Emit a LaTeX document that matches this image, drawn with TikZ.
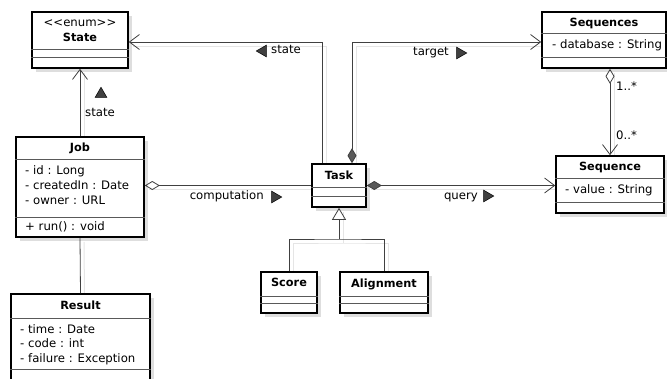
\documentclass[tikz,border=0pt]{standalone}
\usepackage{fontspec}
\setmainfont{DejaVu Sans}
\usetikzlibrary{arrows.meta,shapes.geometric,shadows,backgrounds}

\begin{document}
\begin{tikzpicture}[x=1pt, y=-1pt,
		txt/.style={font=\fontsize{11.7}{14}\selectfont, inner sep=0pt, text height=8.5pt, text depth=2.5pt},
		ttl/.style={txt, font=\fontsize{11.3}{14}\selectfont\bfseries},
		cls/.style 2 args={draw, line width=1.6pt, fill=white, inner sep=0pt, minimum width=#1, minimum height=#2,
			drop shadow={shadow xshift=4pt, shadow yshift=-4pt, fill=black!13, opacity=1}},
		sepline/.style={draw=black!65, line width=0.8pt},
		conn/.style={draw=black!75, line width=0.8pt},
		shade/.style={draw=black!10, line width=1pt},
		dirmark/.style={regular polygon, regular polygon sides=3, draw, fill=black!75, line width=0.5pt, inner sep=0pt, minimum size=13.5pt},
		barb/.tip={Straight Barb[length=10pt, width=15pt]},
		odia/.tip={Diamond[open, length=15pt, width=9pt]},
		fdia/.tip={Diamond[length=15pt, width=9pt, fill=black!65]},
		hollow/.tip={Triangle[open, length=12pt, width=14pt]}]
	\useasboundingbox (0,0) rectangle (667,378);
	\clip (0,0) rectangle (667,378);
	
	% === State ===
	\node[cls={96}{56}] (state) at (80,40) {};
	\draw[sepline] (state.west |- 0,49) -- (state.east |- 0,49);
	\draw[sepline] (state.west |- 0,57) -- (state.east |- 0,57);
	\node[txt] (stereo) at (80,23) {<{}<enum>{}>};
	\node[ttl] (statettl) at (80,38) {State};
	
	% === Job ===
	\node[cls={128}{100}] (job) at (80,187) {};
	\draw[sepline] (job.west |- 0,159) -- (job.east |- 0,159);
	\draw[sepline] (job.west |- 0,217) -- (job.east |- 0,217);
	\node[ttl] (jobttl) at (80,148) {Job};
	\node[txt, anchor=west] (jobid) at (25,171) {- id : Long};
	\node[txt, anchor=west] (jobcreated) at (25,186) {- createdIn : Date};
	\node[txt, anchor=west] (jobowner) at (25,201) {- owner : URL};
	\node[txt, anchor=west] (jobrun) at (25,227) {+ run() : void};
	
	% === Result ===
	\node[cls={139}{92}] (result) at (80.5,340) {};
	\draw[sepline] (result.west |- 0,318) -- (result.east |- 0,318);
	\draw[sepline] (result.west |- 0,369) -- (result.east |- 0,369);
	\node[ttl] (resttl) at (80.5,306) {Result};
	\node[txt, anchor=west] (restime) at (20,330) {- time : Date};
	\node[txt, anchor=west] (rescode) at (20,344) {- code : int};
	\node[txt, anchor=west] (resfail) at (20,359) {- failure : Exception};
	
	% === Sequences ===
	\node[cls={124}{56}] (sequences) at (604,40) {};
	\draw[sepline] (sequences.west |- 0,33) -- (sequences.east |- 0,33);
	\draw[sepline] (sequences.west |- 0,57) -- (sequences.east |- 0,57);
	\node[ttl] (seqsttl) at (604,23) {Sequences};
	\node[txt, anchor=west] (seqsdb) at (552,45) {- database : String};
	
	% === Sequence ===
	\node[cls={108}{57}] (sequence) at (610,184.5) {};
	\draw[sepline] (sequence.west |- 0,178) -- (sequence.east |- 0,178);
	\draw[sepline] (sequence.west |- 0,202) -- (sequence.east |- 0,202);
	\node[ttl] (seqttl) at (610,167) {Sequence};
	\node[txt, anchor=west] (seqval) at (565,190) {- value : String};
	
	% === Task ===
	\node[cls={54}{43}] (task) at (339,185.5) {};
	\draw[sepline] (task.west |- 0,187) -- (task.east |- 0,187);
	\draw[sepline] (task.west |- 0,196) -- (task.east |- 0,196);
	\node[ttl] (taskttl) at (339,176) {Task};
	
	% === Score, Alignment ===
	\node[cls={56}{41}] (score) at (289,292.5) {};
	\draw[sepline] (score.west |- 0,296) -- (score.east |- 0,296);
	\draw[sepline] (score.west |- 0,303) -- (score.east |- 0,303);
	\node[ttl] (scorettl) at (289,283) {Score};
	\node[cls={88}{41}] (alignment) at (384,292.5) {};
	\draw[sepline] (alignment.west |- 0,296) -- (alignment.east |- 0,296);
	\draw[sepline] (alignment.west |- 0,303) -- (alignment.east |- 0,303);
	\node[ttl] (alignttl) at (384,284) {Alignment};
	
	\coordinate (genjoin) at (task.south |- 0,239);
	
	% --- faint line shadows ---
	\begin{pgfonlayer}{background}
		\begin{scope}[transform canvas={xshift=4pt, yshift=-4pt}]
			\draw[shade] (job.north) -- (state.south);
			\draw[shade] ([xshift=-17pt]task.north) |- ([yshift=-2pt]state.east);
			\draw[shade] ([xshift=13pt]task.north) |- ([yshift=-2pt]sequences.west);
			\draw[shade] (job.east |- task.west) -- (task.west);
			\draw[shade] (task.east) -- (task.east -| sequence.west);
			\draw[shade] (sequences.south -| sequence.north) -- (sequence.north);
			\draw[shade] (job.south) -- (result.north);
			\draw[shade] (score.north) |- (genjoin) -| (alignment.north);
			\draw[shade] (genjoin) -- (task.south);
		\end{scope}
	\end{pgfonlayer}
	
	% --- connectors ---
	\draw[conn, -barb] (job.north) -- (state.south);
	\draw[conn, -barb] ([xshift=-17pt]task.north) |- ([yshift=-2pt]state.east);
	\draw[conn, fdia-barb] ([xshift=13pt]task.north) |- ([yshift=-2pt]sequences.west);
	\draw[conn, odia-] (job.east |- task.west) -- (task.west);
	\draw[conn, fdia-barb] (task.east) -- (task.east -| sequence.west);
	\draw[conn, odia-barb] (sequences.south -| sequence.north) -- (sequence.north);
	\draw[conn] (job.south) -- (result.north);
	\draw[conn] (score.north) |- (genjoin) -| (alignment.north);
	\draw[conn, -hollow] (genjoin) -- (task.south);
	
	% --- labels ---
	\node[dirmark] (mkjobstate) at (101,94) {};
	\node[txt] (lbjobstate) at (100,113) {state};
	\node[dirmark, shape border rotate=90] (mktaskstate) at (263,51) {};
	\node[txt, anchor=west] (lbtaskstate) at (271,50) {state};
	\node[txt, anchor=east] (lbtarget) at (449,52) {target};
	\node[dirmark, shape border rotate=-90] (mktarget) at (460,53) {};
	\node[txt, anchor=east] (lbcomp) at (264,196) {computation};
	\node[dirmark, shape border rotate=-90] (mkcomp) at (275,197) {};
	\node[txt, anchor=east] (lbquery) at (478,196) {query};
	\node[dirmark, shape border rotate=-90] (mkquery) at (487,196) {};
	\node[txt, anchor=west] (mult1) at (616,87) {1..*};
	\node[txt, anchor=west] (mult2) at (616,136) {0..*};
\end{tikzpicture}
\end{document}
